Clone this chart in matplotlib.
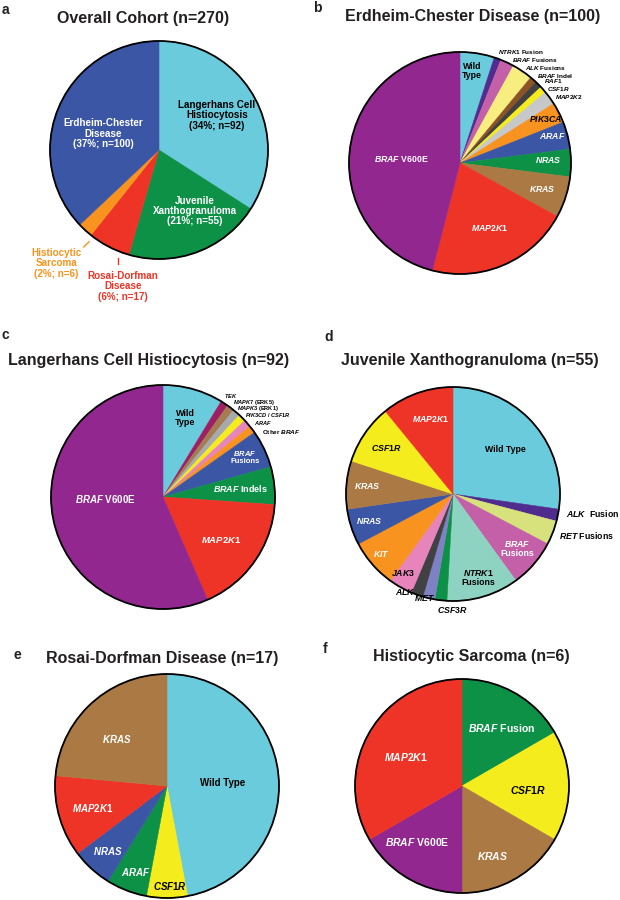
import matplotlib
matplotlib.use("Agg")
import matplotlib.pyplot as plt
from matplotlib.patches import Circle

plt.rcParams['font.family'] = ['Liberation Sans', 'DejaVu Sans']
plt.rcParams['font.weight'] = 'bold'
plt.rcParams['mathtext.fontset'] = 'custom'
plt.rcParams['mathtext.it'] = 'Liberation Sans:italic:bold'
plt.rcParams['mathtext.rm'] = 'Liberation Sans:bold'
plt.rcParams['mathtext.bf'] = 'Liberation Sans:bold'

# colours
CYAN = '#6ACBDC'
BLUE = '#3C56A6'
GREEN = '#0C9146'
RED = '#EE3426'
ORANGE = '#F7931E'
PURPLE = '#92278F'
BROWN = '#AB7A44'
YELLOW = '#F4EC1C'
LTYELLOW = '#F7EE7F'
MAGENTA = '#C360A8'
DKPURPLE = '#4F2C8E'
DKBROWN = '#8C5426'
DKGRAY = '#414042'
LTGRAY = '#C7C8CA'
MAROON = '#9E1F63'
TAN = '#A57C52'
MIDGRAY = '#A7A9AC'
PINK = '#E684BB'
LIME = '#D7E27C'
MINT = '#8ED3C2'
LAVENDER = '#7E82C4'

# ---- data ----
a_names = ['Langerhans Cell\nHistiocytosis\n(34%; n=92)', 'Juvenile\nXanthogranuloma\n(21%; n=55)',
           'Rosai-Dorfman\nDisease\n(6%; n=17)', 'Histiocytic\nSarcoma\n(2%; n=6)',
           'Erdheim-Chester\nDisease\n(37%; n=100)']
a_vals = [92, 55, 17, 6, 100]
a_cols = [CYAN, GREEN, RED, ORANGE, BLUE]

b_names = ['Wild\nType', r'$\mathit{NTRK1}$ Fusion', r'$\mathit{BRAF}$ Fusions', r'$\mathit{ALK}$ Fusions',
           r'$\mathit{BRAF}$ Indel', r'$\mathit{RAF1}$', r'$\mathit{CSF1R}$', r'$\mathit{MAP2K2}$',
           r'$\mathit{PIK3CA}$', r'$\mathit{ARAF}$', r'$\mathit{NRAS}$', r'$\mathit{KRAS}$',
           r'$\mathit{MAP2K1}$', r'$\mathit{BRAF}$ V600E']
b_vals = [5, 1, 2, 3, 1, 1, 1, 2, 3, 4, 4, 6, 21, 46]
b_cols = [CYAN, DKPURPLE, MAGENTA, LTYELLOW, DKBROWN, DKGRAY, YELLOW, LTGRAY,
          ORANGE, BLUE, GREEN, BROWN, RED, PURPLE]

c_names = ['Wild\nType', r'$\mathit{TEK}$', r'$\mathit{MAPK7}$ (ERK5)', r'$\mathit{MAPK3}$ (ERK1)',
           r'$\mathit{PIK3CD}$ / $\mathit{CSF1R}$', r'$\mathit{ARAF}$', r'Other $\mathit{BRAF}$',
           r'$\mathit{BRAF}$' + '\nFusions', r'$\mathit{BRAF}$ Indels', r'$\mathit{MAP2K1}$',
           r'$\mathit{BRAF}$ V600E']
c_vals = [8, 1, 1, 1, 1, 1, 1, 5, 5, 16, 52]
c_cols = [CYAN, MAROON, TAN, MIDGRAY, YELLOW, PINK, ORANGE, BLUE, GREEN, RED, PURPLE]

d_names = ['Wild Type', r'$\mathit{ALK}$  Fusion', r'$\mathit{RET}$ Fusions', r'$\mathit{BRAF}$' + '\nFusions',
           r'$\mathit{NTRK1}$' + '\nFusions', r'$\mathit{CSF3R}$', r'$\mathit{MET}$', r'$\mathit{ALK}$',
           r'$\mathit{JAK3}$', r'$\mathit{KIT}$', r'$\mathit{NRAS}$', r'$\mathit{KRAS}$',
           r'$\mathit{CSF1R}$', r'$\mathit{MAP2K1}$']
d_vals = [15, 1, 2, 4, 6, 1, 1, 1, 2, 4, 3, 4, 5, 6]
d_cols = [CYAN, DKPURPLE, LIME, MAGENTA, MINT, GREEN, LAVENDER, DKGRAY, PINK, ORANGE,
          BLUE, BROWN, YELLOW, RED]

e_names = ['Wild Type', r'$\mathit{CSF1R}$', r'$\mathit{ARAF}$', r'$\mathit{NRAS}$',
           r'$\mathit{MAP2K1}$', r'$\mathit{KRAS}$']
e_vals = [8, 1, 1, 1, 2, 4]
e_cols = [CYAN, YELLOW, GREEN, BLUE, RED, BROWN]

f_names = [r'$\mathit{BRAF}$ Fusion', r'$\mathit{CSF1R}$', r'$\mathit{KRAS}$',
           r'$\mathit{BRAF}$ V600E', r'$\mathit{MAP2K1}$']
f_vals = [1, 1, 1, 1, 2]
f_cols = [GREEN, YELLOW, BROWN, PURPLE, RED]

# ---- layout: pie centre / radius in pixels, label positions in pie units ----
W, H = 620, 900
fig = plt.figure(figsize=(6.2, 9), dpi=100)

K, Wt = 'black', 'white'


def add_pie(cx, cy, r, vals, cols):
    ax = fig.add_axes([(cx - r) / W, 1 - (cy + r) / H, 2 * r / W, 2 * r / H])
    wedges, _ = ax.pie(vals, colors=cols, startangle=90, counterclock=False, radius=1,
                       wedgeprops=dict(linewidth=0.4))
    for w in wedges:
        w.set_edgecolor(w.get_facecolor())
    ax.add_patch(Circle((0, 0), 1, fill=False, lw=1.3, color='black', clip_on=False))
    ax.set_xlim(-1, 1)
    ax.set_ylim(-1, 1)
    ax.axis('off')
    return ax


def put_labels(ax, names, pos, cols, size, ha=None):
    for i, (n, p, c) in enumerate(zip(names, pos, cols)):
        h = 'center' if ha is None else ha[i]
        s = size[i] if isinstance(size, list) else size
        ax.text(p[0], p[1], n, color=c, fontsize=s, ha=h, va='center',
                linespacing=1.05, fontweight='bold')


def head(x, y, letter, lx, ly, title):
    fig.text(x / W, 1 - y / H, title, fontsize=11.5, fontweight='bold',
             ha='center', va='center', color='#231F20')
    fig.text(lx / W, 1 - ly / H, letter, fontsize=10, fontweight='bold',
             ha='left', va='center', color='#231F20')


# a
head(143, 18, 'a', 2, 10, 'Overall Cohort (n=270)')
ax = add_pie(159, 150, 109, a_vals, a_cols)
a_pos = [(0.53, 0.32), (0.33, -0.56), (-0.33, -1.25), (-0.94, -1.04), (-0.51, 0.15)]
a_tcol = [K, Wt, RED, ORANGE, Wt]
put_labels(ax, a_names, a_pos, a_tcol, 7.1)
ax.plot([-0.64, -0.69], [-0.84, -0.89], color=ORANGE, lw=1, clip_on=False)
ax.plot([-0.38, -0.38], [-0.99, -1.05], color=RED, lw=1, clip_on=False)

# b
head(473, 17, 'b', 313, 8, 'Erdheim-Chester Disease (n=100)')
ax = add_pie(460, 163, 111, b_vals, b_cols)
b_pos = [(0.11, 0.83), (0.342, 1.00), (0.468, 0.928), (0.586, 0.859), (0.691, 0.787),
         (0.757, 0.735), (0.787, 0.664), (0.856, 0.591), (0.77, 0.40), (0.835, 0.24),
         (0.80, 0.03), (0.745, -0.23), (0.27, -0.59), (-0.53, 0.04)]
b_tcol = [K] * 9 + [Wt] * 5
b_ha = ['center'] + ['left'] * 7 + ['center'] * 6
b_size = [6.3] + [4.6] * 7 + [6.3] * 6
put_labels(ax, b_names, b_pos, b_tcol, b_size, b_ha)

# c
head(149, 360, 'c', 2, 335, 'Langerhans Cell Histiocytosis (n=92)')
ax = add_pie(163, 497, 112, c_vals, c_cols)
c_pos = [(0.196, 0.705), (0.545, 0.902), (0.623, 0.842), (0.664, 0.788), (0.732, 0.73),
         (0.813, 0.663), (0.881, 0.583), (0.73, 0.36), (0.69, 0.08), (0.52, -0.38), (-0.515, -0.02)]
c_tcol = [K] * 7 + [Wt] * 4
c_ha = ['center'] + ['left'] * 6 + ['center'] * 4
c_size = [6.5] + [4.1] * 5 + [4.6] + [5.5, 6.5, 6.8, 7]
put_labels(ax, c_names, c_pos, c_tcol, c_size, c_ha)

# d
head(470, 361, 'd', 324, 337, 'Juvenile Xanthogranuloma (n=55)')
ax = add_pie(453, 494, 107, d_vals, d_cols)
d_pos = [(0.49, 0.42), (1.056, -0.18), (0.99, -0.39), (0.60, -0.51), (0.24, -0.78),
         (-0.01, -1.08), (-0.27, -0.976), (-0.45, -0.92), (-0.47, -0.735), (-0.67, -0.56),
         (-0.78, -0.25), (-0.80, 0.075), (-0.62, 0.43), (-0.21, 0.70)]
d_tcol = [K, K, K, Wt, K, K, K, K, K, Wt, Wt, Wt, K, Wt]
d_ha = ['center', 'left', 'left'] + ['center'] * 11
put_labels(ax, d_names, d_pos, d_tcol, 6.3, d_ha)

# e
head(162, 658, 'e', 13, 655, 'Rosai-Dorfman Disease (n=17)')
ax = add_pie(167, 786, 112, e_vals, e_cols)
e_pos = [(0.50, 0.03), (0.03, -0.89), (-0.28, -0.77), (-0.53, -0.58), (-0.66, -0.2), (-0.45, 0.42)]
e_tcol = [K, K, Wt, Wt, Wt, Wt]
put_labels(ax, e_names, e_pos, e_tcol, 7)

# f
head(471, 657, 'f', 323, 649, 'Histiocytic Sarcoma (n=6)')
ax = add_pie(462, 786, 107, f_vals, f_cols)
f_pos = [(0.37, 0.54), (0.62, -0.04), (0.29, -0.655), (-0.42, -0.52), (-0.52, 0.27)]
f_tcol = [Wt, K, Wt, Wt, Wt]
put_labels(ax, f_names, f_pos, f_tcol, 7.5)

fig.savefig('out.png', dpi=100)
